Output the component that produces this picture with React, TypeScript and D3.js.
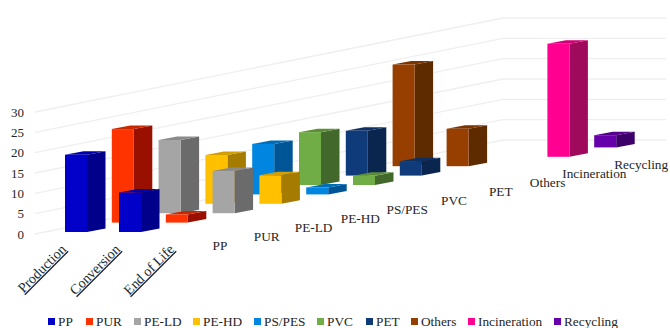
import React from "react";
import * as d3 from "d3";

const stages = ["Production", "Conversion", "End of Life"];
const materials = ["PP", "PUR", "PE-LD", "PE-HD", "PS/PES", "PVC", "PET", "Others", "Incineration", "Recycling"];
const productionValues = [19, 23, 18, 12, 12.4, 13, 11, 25, 0, 0];
const conversionValues = [9.7, 2, 10.4, 7, 1.7, 2.3, 3.5, 9.2, 0, 0];
const endOfLifeValues = [0, 0, 0, 0, 0, 0, 0, 0, 27.8, 3];
const valueTicks = [0, 5, 10, 15, 20, 25, 30];
const frontColors = ["#0000C8", "#FF3300", "#A5A5A5", "#FFC000", "#0085E0", "#70AD47", "#0F3B7A", "#973F00", "#FF0090", "#6600AA"];
const sideColors = ["#00008A", "#990F00", "#6B6B6B", "#A57C00", "#005596", "#43682B", "#0A264E", "#5E2A00", "#A00A5C", "#3C0068"];
const topColors = ["#0000A8", "#C82800", "#8A8A8A", "#D29E00", "#006DB8", "#5C8E3A", "#0C3064", "#7C3400", "#D20076", "#54008C"];
const legendX = [48, 86, 134, 193, 254, 317, 366, 411, 468, 554];

const stageValues = [productionValues, conversionValues, endOfLifeValues];
const serif = "'Liberation Serif', 'Times New Roman', serif";

// Oblique projection: stages run horizontally, materials run into the page.
const stageX = d3.scaleLinear().domain([0, 3]).range([0, 162]);
const depthX = d3.scaleLinear().domain([0, 10]).range([0, 468]);
const depthY = d3.scaleLinear().domain([0, 10]).range([0, -94]);
const heightY = d3.scaleLinear().domain([0, 30]).range([234, 112]);
const labelY = d3.scaleLinear().domain([0, 9]).range([250, 169]);
const rise = (v: number) => 234 - heightY(v);

const barW = 22;
const barDx = 18.5;
const barDy = -3.5;

function poly(pts: [number, number][]) {
  return (d3.line()(pts) ?? "") + "Z";
}

type Bar = { key: string; i: number; c: number; v: number };
const bars: Bar[] = [];
stageValues.forEach((vals, c) =>
  vals.forEach((v, i) => {
    if (v > 0) bars.push({ key: `${c}-${i}`, i, c, v });
  })
);
// Painter's order: deepest material first so nearer bars overlap it.
bars.sort((a, b) => b.i - a.i || a.c - b.c);

export default function App() {
  return (
    <svg
      width={670}
      height={328}
      style={{ position: "absolute", left: 0, top: 0, background: "#fff" }}
      fontFamily={serif}
      fill="#262626"
    >
      {valueTicks.map((t) => {
        const y = heightY(t);
        const line = d3.line()([
          [35, y],
          [35 + depthX(10), y + depthY(10)],
          [666, y + depthY(10)],
        ]);
        return <path key={t} d={line ?? ""} fill="none" stroke="#EFEFEF" strokeWidth={1.3} />;
      })}
      {valueTicks.map((t) => (
        <text key={t} x={24} y={heightY(t) + 4.5} fontSize={13} textAnchor="end">
          {t}
        </text>
      ))}

      {bars.map(({ key, i, c, v }) => {
        const x0 = 65 + stageX(c) + depthX(i);
        const yb = 232 + depthY(i);
        const yt = yb - rise(v);
        const x1 = x0 + barW;
        return (
          <g key={key}>
            <path
              d={poly([[x1, yb], [x1 + barDx, yb + barDy], [x1 + barDx, yt + barDy], [x1, yt]])}
              fill={sideColors[i]}
            />
            <path
              d={poly([[x0, yt], [x1, yt], [x1 + barDx, yt + barDy], [x0 + barDx, yt + barDy]])}
              fill={topColors[i]}
            />
            <rect x={x0} y={yt} width={barW} height={yb - yt} fill={frontColors[i]} />
          </g>
        );
      })}

      {stages.map((s, c) => (
        <text
          key={s}
          transform={`translate(${67 + stageX(c)},250) rotate(-45)`}
          fontSize={14}
          textAnchor="end"
          textDecoration="underline"
        >
          {s}
        </text>
      ))}

      {materials.map((m, i) => (
        <text key={m} x={220 + depthX(i)} y={labelY(i)} fontSize={13.3} textAnchor="middle">
          {m}
        </text>
      ))}

      {materials.map((m, i) => (
        <g key={m}>
          <rect x={legendX[i]} y={318} width={7} height={7} fill={frontColors[i]} />
          <text x={legendX[i] + 10} y={326} fontSize={13.3}>
            {m}
          </text>
        </g>
      ))}
    </svg>
  );
}
